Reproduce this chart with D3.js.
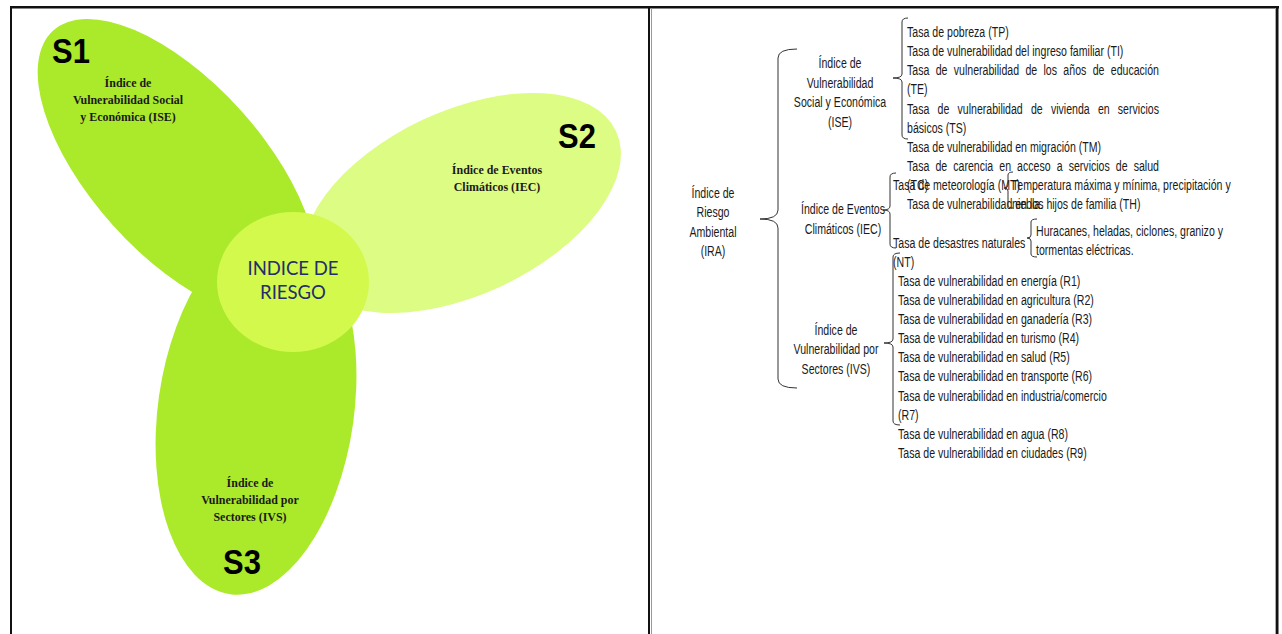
<!DOCTYPE html>
<html>
<head>
<meta charset="utf-8">
<script src="https://cdn.jsdelivr.net/npm/d3@7"></script>
<style>
body { margin: 0; background: #fff; }
svg { display: block; }
</style>
</head>
<body>
<svg width="1282" height="634"></svg>
<script>
// ---- data: left diagram ----
var petalNames = ['S1', 'S2', 'S3'];
var petalLabels = [
    ['Índice de', 'Vulnerabilidad Social', 'y Económica (ISE)'],
    ['Índice de Eventos', 'Climáticos (IEC)'],
    ['Índice de', 'Vulnerabilidad por', 'Sectores (IVS)']
];
var centerLabel = ['INDICE DE', 'RIESGO'];

// ---- data: right tree ----
var rootLabel = ['Índice de', 'Riesgo', 'Ambiental', '(IRA)'];
var groupLabels = [
    ['Índice de', 'Vulnerabilidad', 'Social y Económica', '(ISE)'],
    ['Índice de Eventos', 'Climáticos (IEC)'],
    ['Índice de', 'Vulnerabilidad por', 'Sectores (IVS)']
];
var iseItems = [
    ['Tasa de pobreza (TP)'],
    ['Tasa de vulnerabilidad del ingreso familiar (TI)'],
    ['Tasa de vulnerabilidad de los años de educación', '(TE)'],
    ['Tasa de vulnerabilidad de vivienda en servicios', 'básicos (TS)'],
    ['Tasa de vulnerabilidad en migración (TM)'],
    ['Tasa de carencia en acceso a servicios de salud', '(TC)'],
    ['Tasa de vulnerabilidad en los hijos de familia (TH)']
];
var iecItems = [
    ['Tasa de meteorología (MT)'],
    ['Tasa de desastres naturales', '(NT)']
];
var iecDetails = [
    ['Temperatura máxima y mínima, precipitación y', 'niebla.'],
    ['Huracanes, heladas, ciclones, granizo y', 'tormentas eléctricas.']
];
var ivsItems = [
    ['Tasa de vulnerabilidad en energía (R1)'],
    ['Tasa de vulnerabilidad en agricultura (R2)'],
    ['Tasa de vulnerabilidad en ganadería (R3)'],
    ['Tasa de vulnerabilidad en turismo (R4)'],
    ['Tasa de vulnerabilidad en salud (R5)'],
    ['Tasa de vulnerabilidad en transporte (R6)'],
    ['Tasa de vulnerabilidad en industria/comercio', '(R7)'],
    ['Tasa de vulnerabilidad en agua (R8)'],
    ['Tasa de vulnerabilidad en ciudades (R9)']
];

var svg = d3.select('svg');

// frame round the two panels
var frame = svg.append('g').attr('fill', '#111');
frame.append('rect').attr('x', 10).attr('y', 6).attr('width', 1269).attr('height', 2.5);
frame.append('rect').attr('x', 10).attr('y', 6).attr('width', 2).attr('height', 628);
frame.append('rect').attr('x', 648).attr('y', 6).attr('width', 2).attr('height', 628);
frame.append('rect').attr('x', 651).attr('y', 8).attr('width', 1).attr('height', 626).attr('fill', '#999');
frame.append('rect').attr('x', 1275).attr('y', 8).attr('width', 1).attr('height', 626).attr('fill', '#aaa');
frame.append('rect').attr('x', 1276).attr('y', 6).attr('width', 2.5).attr('height', 628);

// ---- left panel: three petals + centre ----
var petalShape = {
    S1: {cx: 177, cy: 168, rx: 185, ry: 86, rot: 48, fill: '#abe92b',
         name: [71, 63], label: [128, 86.5]},
    S2: {cx: 462, cy: 203, rx: 170, ry: 92, rot: -25, fill: '#ddfc84',
         name: [577, 148], label: [497, 173.5]},
    S3: {cx: 256, cy: 410, rx: 186, ry: 98, rot: 98, fill: '#abe92b',
         name: [242, 574], label: [250, 487]}
};
var drawOrder = ['S1', 'S3', 'S2'];

var petalG = svg.append('g');
petalG.selectAll('ellipse')
    .data(drawOrder)
    .enter().append('ellipse')
    .attr('transform', function(d){
        var p = petalShape[d];
        return 'translate(' + [p.cx, p.cy] + ') rotate(' + p.rot + ')';
    })
    .attr('rx', function(d){ return petalShape[d].rx; })
    .attr('ry', function(d){ return petalShape[d].ry; })
    .attr('fill', function(d){ return petalShape[d].fill; });

// centre circle
svg.append('ellipse')
    .attr('cx', 293).attr('cy', 282)
    .attr('rx', 76).attr('ry', 70)
    .attr('fill', '#d3f94d');

svg.append('g').selectAll('text')
    .data(centerLabel)
    .enter().append('text')
    .attr('x', 293)
    .attr('y', function(d, i){ return 275 + i * 24; })
    .attr('text-anchor', 'middle')
    .style('font-family', 'Lato, "Open Sans", sans-serif')
    .style('font-size', '18.5px')
    .style('fill', '#222d6c')
    .text(function(d){ return d; });

// petal names and captions
petalNames.forEach(function(name, i){
    var p = petalShape[name];
    svg.append('text')
        .attr('transform', 'translate(' + p.name + ') scale(0.86,1)')
        .attr('text-anchor', 'middle')
        .style('font-family', '"Liberation Sans", Arial, sans-serif')
        .style('font-weight', 'bold')
        .style('font-size', '36px')
        .style('fill', '#000')
        .text(name);

    var cap = svg.append('g')
        .attr('transform', 'translate(' + p.label + ')');
    cap.selectAll('text')
        .data(petalLabels[i])
        .enter().append('text')
        .attr('transform', function(d, j){ return 'translate(0,' + (j * 17) + ') scale(0.95,1)'; })
        .attr('text-anchor', 'middle')
        .style('font-family', '"Liberation Serif", "Times New Roman", serif')
        .style('font-weight', 'bold')
        .style('font-size', '12.6px')
        .style('fill', '#1a1a1a')
        .text(function(d){ return d; });
});

// ---- right panel: tree of indicators ----
var RX = 0.73;      // horizontal squeeze of the narrow text
var rowY = d3.scaleLinear().domain([0, 22]).range([32, 453]);
var base = function(r){ return rowY(r) + 5; };

var treeG = svg.append('g')
    .style('font-family', '"Liberation Sans", Arial, sans-serif')
    .style('font-size', '14.5px')
    .style('fill', '#1a1a1a');

function rText(str, x, r, anchor) {
    return treeG.append('text')
        .attr('transform', 'translate(' + [x, base(r)] + ') scale(' + RX + ',1)')
        .attr('text-anchor', anchor || 'start')
        .text(str);
}

// spread words so the line fills the given width
function justify(t, width) {
    var words = t.text().split(' ');
    t.text(null);
    var spans = words.map(function(w){ return t.append('tspan').text(w); });
    var lens = spans.map(function(s){ return s.node().getComputedTextLength(); });
    var gap = (width / RX - d3.sum(lens)) / (words.length - 1);
    var x = 0;
    spans.forEach(function(s, i){ s.attr('x', x); x += lens[i] + gap; });
}

// list of items, each one or more lines; xs / rows give one start per item
// (a single value means the items follow each other)
function drawItems(items, xs, rows, justWidth) {
    var r = rows[0];
    items.forEach(function(lines, k){
        var x = xs.length > 1 ? xs[k] : xs[0];
        if (rows.length > 1) r = rows[k];
        lines.forEach(function(line, j){
            var t = rText(line, x, r + j);
            if (justWidth && j < lines.length - 1) justify(t, justWidth);
        });
        r += lines.length;
    });
}

function drawLabel(lines, x, r) {
    lines.forEach(function(line, j){ rText(line, x, r + j * 1.02, 'middle'); });
}

drawLabel(rootLabel, 713, 8.4);
drawLabel(groupLabels[0], 840, 1.62);
drawLabel(groupLabels[1], 843, 9.25);
drawLabel(groupLabels[2], 836, 15.57);

drawItems(iseItems, [907], [0], 252);
drawItems(iecItems, [893], [8, 11]);
drawItems(iecDetails, [1012, 1036], [8, 10.4]);
drawItems(ivsItems, [898], [13]);

// curly braces
function bracePath(b) {
    var p = d3.path(), r = b.r || 4;
    p.moveTo(b.hook, b.y0);
    p.quadraticCurveTo(b.x, b.y0, b.x, b.y0 + r);
    p.lineTo(b.x, b.ym - r);
    p.quadraticCurveTo(b.x, b.ym, b.tip, b.ym);
    p.quadraticCurveTo(b.x, b.ym, b.x, b.ym + r);
    p.lineTo(b.x, b.y1 - r);
    p.quadraticCurveTo(b.x, b.y1, b.hook, b.y1);
    return p.toString();
}
var braces = [
    {x: 778, y0: 49, y1: 388, ym: 219, tip: 760, hook: 797, r: 9},
    {x: 902, y0: 18, y1: 139, ym: 78, tip: 893, hook: 908},
    {x: 890, y0: 173, y1: 248, ym: 210, tip: 883, hook: 896},
    {x: 1008, y0: 172, y1: 208, ym: 188, tip: 1004, hook: 1013, r: 3},
    {x: 1031, y0: 219, y1: 257, ym: 238, tip: 1027, hook: 1037, r: 3},
    {x: 893, y0: 253, y1: 425, ym: 343, tip: 884, hook: 900}
];
svg.append('g').selectAll('path')
    .data(braces)
    .enter().append('path')
    .attr('d', bracePath)
    .attr('fill', 'none')
    .attr('stroke', '#333')
    .attr('stroke-width', 1);
</script>
</body>
</html>
